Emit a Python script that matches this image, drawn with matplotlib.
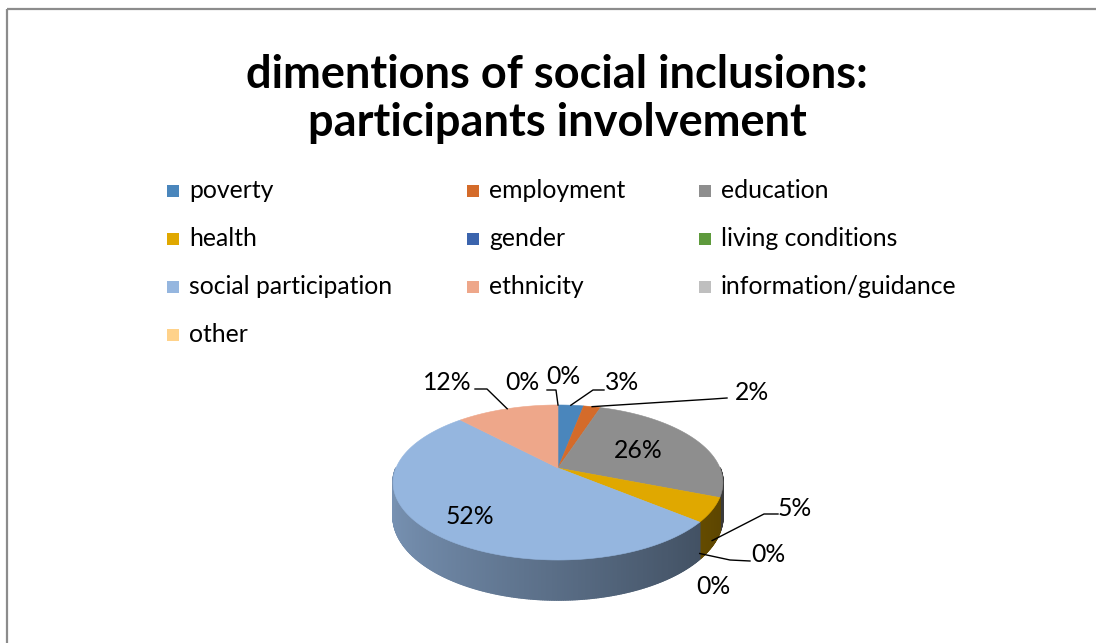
import numpy as np
import matplotlib.pyplot as plt
from matplotlib.patches import Polygon, Rectangle
from matplotlib.collections import PolyCollection
from matplotlib.colors import to_rgb

# Survey shares (%) per dimension, clockwise from 12 o'clock
categories = ['poverty', 'employment', 'education', 'health', 'gender',
              'living conditions', 'social participation', 'ethnicity',
              'information/guidance', 'other']
shares = [3, 2, 26, 5, 0, 0, 52, 12, 0, 0]
colors = ['#4A86BC', '#D46B2A', '#8E8E8E', '#E0A800', '#3B64AD',
          '#5E9A3C', '#95B6DF', '#EEA78A', '#BFBFBF', '#FFD28A']
title = 'dimentions of social inclusions:\nparticipants involvement'

FONT = 'Lato'

# pie geometry (pixel space), simple perspective tilt
CX, CY = 558, 468
RX, RY = 162, 74.8
PERSP = 0.187
DEPTH = 32.5


def project(phi_deg):
    phi = np.radians(phi_deg)
    X = np.sin(phi)
    Z = -np.cos(phi)
    s = 1.0 / (1.0 - PERSP * Z)
    return CX + RX * X * s, CY + RY * Z * s, s, X, Z


fig = plt.figure(figsize=(10.96, 6.43), dpi=100)
ax = fig.add_axes([0, 0, 1, 1])
ax.set_xlim(0, 1096)
ax.set_ylim(643, 0)
ax.axis('off')

ax.add_patch(Rectangle((7, 9), 1300, 1000, fill=False, edgecolor='#8C8C8C', lw=1.6))

ax.text(557, 99, title, ha='center', va='center', fontsize=32.5, fontweight='bold',
        family=FONT, linespacing=1.15)

# legend, three columns
col_x = [167, 467, 699]
row_y = [191, 239, 287, 335]
for i, (name, c) in enumerate(zip(categories, colors)):
    x, y = col_x[i % 3], row_y[i // 3]
    ax.add_patch(Rectangle((x, y - 6), 12, 12, facecolor=c, edgecolor='none'))
    ax.text(x + 22, y, name, ha='left', va='center', fontsize=17.8, family=FONT)

# slice boundaries in degrees
total = float(sum(shares))
bounds = np.concatenate([[0], np.cumsum(shares)]) / total * 360.0

# outer wall on the front half, shaded darker towards the right
quads, qcols = [], []
for k, c in enumerate(colors):
    a0, a1 = max(bounds[k], 90), min(bounds[k + 1], 270)
    if a1 <= a0:
        continue
    angs = np.linspace(a0, a1, max(int((a1 - a0) / 0.5), 2))
    base = np.array(to_rgb(c))
    for p, q in zip(angs[:-1], angs[1:]):
        x0, y0, s0, X0, _ = project(p)
        x1, y1, s1, X1, _ = project(q)
        quads.append([(x0, y0), (x1, y1), (x1, y1 + DEPTH * s1), (x0, y0 + DEPTH * s0)])
        shade = 0.6 - 0.2 * (X0 + X1) / 2
        qcols.append(tuple(base * shade))
ax.add_collection(PolyCollection(quads, facecolors=qcols, edgecolors=qcols, linewidths=1.2))

# top faces
for k, c in enumerate(colors):
    if shares[k] == 0:
        continue
    angs = np.linspace(bounds[k], bounds[k + 1], 120)
    pts = [(CX, CY)] + [project(a)[:2] for a in angs]
    ax.add_patch(Polygon(pts, closed=True, facecolor=c, edgecolor=c, lw=0.4))

# data labels
label_xy = [(622, 383), (752, 392), (638, 450), (795, 508), (768, 555),
            (713, 587), (470, 517), (447, 383), (522, 383), (563, 377)]
for k, (x, y) in enumerate(label_xy):
    ax.text(x, y, f'{shares[k]}%', ha='center', va='center', fontsize=17.8, family=FONT)

# leader lines: label end, elbow, then to the slice
leaders = {0: [(604, 390), (593, 390)],
           1: [(727, 398), (713, 399)],
           3: [(778, 514), (764, 514)],
           4: [(750, 561), (730, 560)],
           7: [(475, 389), (487, 389)],
           9: [(547, 390), (556, 390)]}
for k, path in leaders.items():
    mid = (bounds[k] + bounds[k + 1]) / 2
    x, y, s, X, Z = project(mid)
    if Z > 0:
        y += DEPTH * s * 0.85
    xs = [p[0] for p in path] + [x]
    ys = [p[1] for p in path] + [y]
    ax.plot(xs, ys, color='black', lw=1.0)

fig.savefig('out.png', dpi=100)
